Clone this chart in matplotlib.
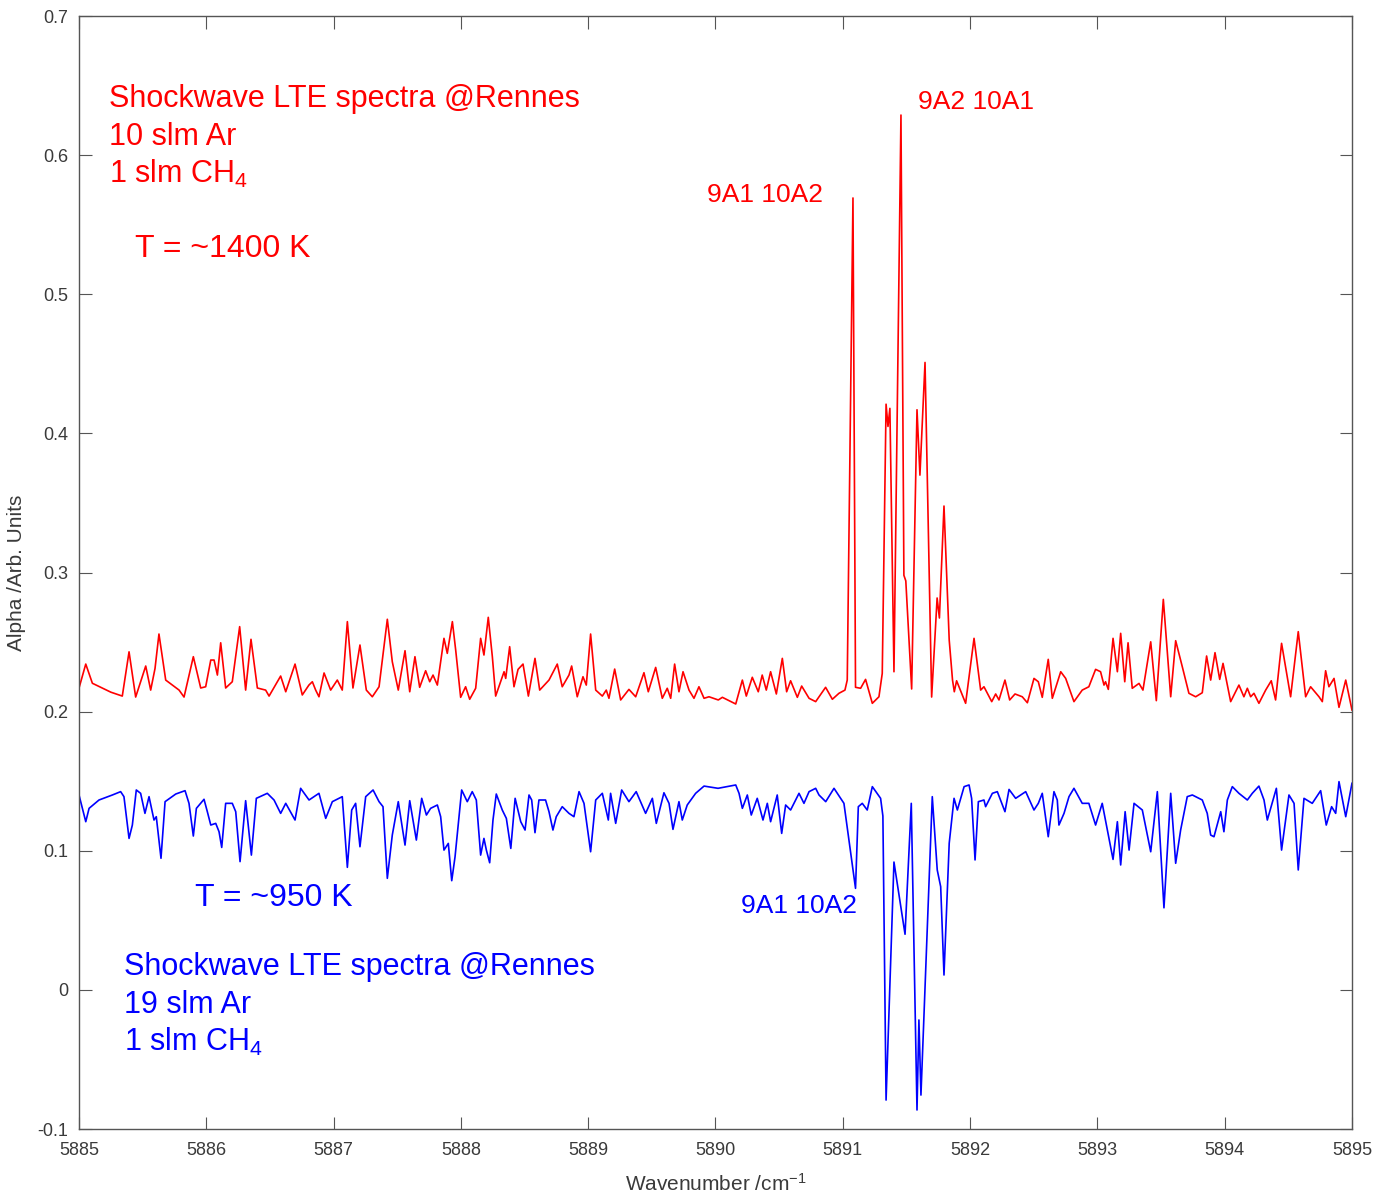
import matplotlib
matplotlib.use("Agg")
import matplotlib.pyplot as plt

plt.rcParams['font.family'] = ['Liberation Sans', 'DejaVu Sans']
plt.rcParams['mathtext.fontset'] = 'custom'
plt.rcParams['mathtext.rm'] = 'Liberation Sans'
plt.rcParams['mathtext.it'] = 'Liberation Sans:italic'

# Spectre rouge (~1400 K), sommets et creux
red_x = [
    5885.000, 5885.053, 5885.105, 5885.250, 5885.340, 5885.393, 5885.445, 5885.524, 5885.563, 5885.597,
    5885.628, 5885.681, 5885.786, 5885.825, 5885.898, 5885.956, 5885.995, 5886.035, 5886.061, 5886.087,
    5886.113, 5886.152, 5886.204, 5886.262, 5886.309, 5886.351, 5886.401, 5886.466, 5886.493, 5886.584,
    5886.624, 5886.697, 5886.754, 5886.806, 5886.833, 5886.859, 5886.885, 5886.925, 5886.977, 5887.029,
    5887.068, 5887.108, 5887.152, 5887.207, 5887.257, 5887.304, 5887.357, 5887.422, 5887.461, 5887.508,
    5887.561, 5887.598, 5887.639, 5887.676, 5887.723, 5887.755, 5887.781, 5887.815, 5887.867, 5887.893,
    5887.933, 5887.959, 5887.998, 5888.037, 5888.069, 5888.116, 5888.155, 5888.181, 5888.215, 5888.247,
    5888.273, 5888.339, 5888.352, 5888.383, 5888.417, 5888.449, 5888.488, 5888.530, 5888.582, 5888.619,
    5888.692, 5888.757, 5888.796, 5888.849, 5888.870, 5888.914, 5888.959, 5888.985, 5889.019, 5889.059,
    5889.111, 5889.142, 5889.163, 5889.208, 5889.255, 5889.320, 5889.373, 5889.438, 5889.472, 5889.530,
    5889.582, 5889.621, 5889.648, 5889.679, 5889.713, 5889.745, 5889.792, 5889.831, 5889.870, 5889.910,
    5889.949, 5890.022, 5890.054, 5890.159, 5890.211, 5890.242, 5890.289, 5890.336, 5890.367, 5890.399,
    5890.433, 5890.478, 5890.525, 5890.559, 5890.590, 5890.643, 5890.677, 5890.735, 5890.787, 5890.865,
    5890.918, 5890.970, 5891.017, 5891.035, 5891.080, 5891.100, 5891.140, 5891.179, 5891.232, 5891.284,
    5891.310, 5891.340, 5891.355, 5891.370, 5891.402, 5891.457, 5891.480, 5891.495, 5891.541, 5891.583,
    5891.606, 5891.646, 5891.698, 5891.741, 5891.759, 5891.795, 5891.836, 5891.862, 5891.876, 5891.894,
    5891.965, 5892.031, 5892.083, 5892.109, 5892.170, 5892.201, 5892.227, 5892.274, 5892.311, 5892.353,
    5892.410, 5892.450, 5892.502, 5892.536, 5892.567, 5892.614, 5892.646, 5892.712, 5892.751, 5892.816,
    5892.881, 5892.933, 5892.986, 5893.025, 5893.052, 5893.064, 5893.086, 5893.123, 5893.157, 5893.183,
    5893.215, 5893.241, 5893.274, 5893.327, 5893.358, 5893.419, 5893.463, 5893.518, 5893.576, 5893.615,
    5893.667, 5893.719, 5893.772, 5893.824, 5893.858, 5893.890, 5893.924, 5893.961, 5893.987, 5894.047,
    5894.112, 5894.151, 5894.178, 5894.204, 5894.230, 5894.269, 5894.322, 5894.366, 5894.400, 5894.447,
    5894.518, 5894.578, 5894.636, 5894.675, 5894.741, 5894.767, 5894.793, 5894.819, 5894.859, 5894.898,
    5894.951, 5895.000,
]
red_y = [
    0.2170, 0.2342, 0.2204, 0.2140, 0.2112, 0.2430, 0.2105, 0.2328, 0.2155, 0.2310,
    0.2558, 0.2227, 0.2155, 0.2105, 0.2395, 0.2170, 0.2179, 0.2371, 0.2371, 0.2263,
    0.2495, 0.2170, 0.2215, 0.2611, 0.2155, 0.2520, 0.2170, 0.2155, 0.2112, 0.2256,
    0.2143, 0.2342, 0.2120, 0.2191, 0.2215, 0.2155, 0.2107, 0.2278, 0.2155, 0.2227,
    0.2155, 0.2647, 0.2170, 0.2479, 0.2155, 0.2107, 0.2179, 0.2664, 0.2359, 0.2155,
    0.2438, 0.2143, 0.2395, 0.2175, 0.2294, 0.2215, 0.2263, 0.2191, 0.2527, 0.2419,
    0.2647, 0.2443, 0.2103, 0.2179, 0.2089, 0.2168, 0.2527, 0.2407, 0.2678, 0.2395,
    0.2112, 0.2287, 0.2239, 0.2467, 0.2179, 0.2304, 0.2342, 0.2112, 0.2383, 0.2155,
    0.2227, 0.2342, 0.2179, 0.2263, 0.2328, 0.2107, 0.2251, 0.2191, 0.2558, 0.2155,
    0.2112, 0.2155, 0.2096, 0.2306, 0.2084, 0.2160, 0.2107, 0.2280, 0.2143, 0.2318,
    0.2096, 0.2168, 0.2096, 0.2342, 0.2143, 0.2287, 0.2155, 0.2096, 0.2179, 0.2096,
    0.2107, 0.2084, 0.2103, 0.2055, 0.2227, 0.2112, 0.2247, 0.2143, 0.2263, 0.2155,
    0.2287, 0.2127, 0.2383, 0.2143, 0.2222, 0.2103, 0.2184, 0.2096, 0.2072, 0.2175,
    0.2089, 0.2132, 0.2155, 0.2227, 0.5692, 0.2175, 0.2168, 0.2232, 0.2060, 0.2107,
    0.2275, 0.4210, 0.4050, 0.4180, 0.2287, 0.6288, 0.2980, 0.2940, 0.2163, 0.4170,
    0.3700, 0.4510, 0.2105, 0.2817, 0.2673, 0.3478, 0.2515, 0.2227, 0.2143, 0.2222,
    0.2060, 0.2527, 0.2155, 0.2179, 0.2072, 0.2127, 0.2084, 0.2227, 0.2084, 0.2127,
    0.2107, 0.2064, 0.2239, 0.2215, 0.2103, 0.2376, 0.2096, 0.2287, 0.2239, 0.2072,
    0.2155, 0.2179, 0.2304, 0.2287, 0.2191, 0.2215, 0.2160, 0.2527, 0.2287, 0.2563,
    0.2215, 0.2495, 0.2168, 0.2203, 0.2155, 0.2502, 0.2079, 0.2807, 0.2107, 0.2510,
    0.2323, 0.2132, 0.2107, 0.2136, 0.2400, 0.2227, 0.2424, 0.2232, 0.2347, 0.2072,
    0.2191, 0.2107, 0.2168, 0.2107, 0.2132, 0.2060, 0.2155, 0.2222, 0.2084, 0.2491,
    0.2107, 0.2575, 0.2107, 0.2179, 0.2107, 0.2072, 0.2294, 0.2179, 0.2239, 0.2031,
    0.2227, 0.2012,
]

# Spectre bleu (~950 K), creux vers le bas
blue_x = [
    5885.000, 5885.053, 5885.079, 5885.157, 5885.262, 5885.327, 5885.353, 5885.393, 5885.419, 5885.450,
    5885.484, 5885.518, 5885.550, 5885.589, 5885.607, 5885.644, 5885.676, 5885.760, 5885.833, 5885.864,
    5885.898, 5885.922, 5885.982, 5886.008, 5886.035, 5886.074, 5886.100, 5886.121, 5886.152, 5886.204,
    5886.231, 5886.265, 5886.309, 5886.354, 5886.393, 5886.479, 5886.532, 5886.584, 5886.624, 5886.697,
    5886.741, 5886.807, 5886.885, 5886.938, 5886.990, 5887.068, 5887.108, 5887.142, 5887.173, 5887.207,
    5887.252, 5887.310, 5887.357, 5887.388, 5887.422, 5887.461, 5887.508, 5887.561, 5887.598, 5887.650,
    5887.692, 5887.729, 5887.762, 5887.815, 5887.841, 5887.867, 5887.901, 5887.928, 5887.954, 5887.985,
    5888.006, 5888.050, 5888.089, 5888.121, 5888.155, 5888.181, 5888.200, 5888.226, 5888.252, 5888.278,
    5888.325, 5888.357, 5888.392, 5888.426, 5888.470, 5888.504, 5888.535, 5888.556, 5888.582, 5888.613,
    5888.665, 5888.692, 5888.723, 5888.749, 5888.796, 5888.849, 5888.888, 5888.928, 5888.967, 5889.019,
    5889.059, 5889.111, 5889.158, 5889.176, 5889.216, 5889.263, 5889.320, 5889.377, 5889.451, 5889.504,
    5889.535, 5889.595, 5889.635, 5889.666, 5889.713, 5889.739, 5889.778, 5889.844, 5889.910, 5890.020,
    5890.159, 5890.185, 5890.211, 5890.250, 5890.281, 5890.328, 5890.373, 5890.407, 5890.433, 5890.485,
    5890.520, 5890.551, 5890.590, 5890.656, 5890.695, 5890.735, 5890.787, 5890.813, 5890.866, 5890.931,
    5891.009, 5891.100, 5891.122, 5891.153, 5891.192, 5891.232, 5891.297, 5891.315, 5891.340, 5891.402,
    5891.489, 5891.538, 5891.583, 5891.598, 5891.614, 5891.703, 5891.742, 5891.769, 5891.795, 5891.836,
    5891.874, 5891.900, 5891.953, 5891.992, 5892.012, 5892.039, 5892.065, 5892.109, 5892.122, 5892.175,
    5892.214, 5892.274, 5892.306, 5892.358, 5892.437, 5892.502, 5892.536, 5892.567, 5892.614, 5892.659,
    5892.685, 5892.698, 5892.738, 5892.777, 5892.816, 5892.881, 5892.933, 5892.986, 5893.038, 5893.123,
    5893.157, 5893.183, 5893.218, 5893.249, 5893.288, 5893.353, 5893.419, 5893.471, 5893.523, 5893.576,
    5893.615, 5893.654, 5893.706, 5893.746, 5893.824, 5893.863, 5893.890, 5893.916, 5893.969, 5893.994,
    5894.021, 5894.060, 5894.112, 5894.178, 5894.217, 5894.269, 5894.309, 5894.335, 5894.406, 5894.427,
    5894.447, 5894.505, 5894.545, 5894.578, 5894.623, 5894.688, 5894.754, 5894.798, 5894.840, 5894.872,
    5894.898, 5894.951, 5895.000,
]
blue_y = [
    0.1401, 0.1209, 0.1305, 0.1365, 0.1401, 0.1425, 0.1389, 0.1089, 0.1185, 0.1437,
    0.1413, 0.1269, 0.1389, 0.1221, 0.1245, 0.0946, 0.1353, 0.1408, 0.1432, 0.1341,
    0.1106, 0.1305, 0.1370, 0.1281, 0.1185, 0.1197, 0.1137, 0.1024, 0.1341, 0.1341,
    0.1281, 0.0922, 0.1360, 0.0969, 0.1377, 0.1413, 0.1365, 0.1269, 0.1341, 0.1221,
    0.1449, 0.1365, 0.1413, 0.1233, 0.1353, 0.1389, 0.0881, 0.1293, 0.1341, 0.1029,
    0.1389, 0.1437, 0.1353, 0.1317, 0.0802, 0.1113, 0.1353, 0.1041, 0.1360, 0.1077,
    0.1377, 0.1257, 0.1305, 0.1329, 0.1245, 0.1005, 0.1053, 0.0785, 0.0957, 0.1245,
    0.1437, 0.1353, 0.1425, 0.1365, 0.0969, 0.1089, 0.1005, 0.0914, 0.1221, 0.1408,
    0.1293, 0.1233, 0.1017, 0.1377, 0.1209, 0.1149, 0.1401, 0.1365, 0.1130, 0.1365,
    0.1365, 0.1281, 0.1149, 0.1245, 0.1317, 0.1269, 0.1245, 0.1425, 0.1341, 0.0993,
    0.1365, 0.1413, 0.1221, 0.1413, 0.1197, 0.1437, 0.1353, 0.1425, 0.1269, 0.1377,
    0.1197, 0.1417, 0.1341, 0.1154, 0.1353, 0.1221, 0.1329, 0.1413, 0.1465, 0.1449,
    0.1473, 0.1413, 0.1305, 0.1401, 0.1257, 0.1377, 0.1221, 0.1341, 0.1209, 0.1401,
    0.1125, 0.1329, 0.1293, 0.1413, 0.1341, 0.1425, 0.1449, 0.1401, 0.1353, 0.1449,
    0.1341, 0.0730, 0.1317, 0.1341, 0.1293, 0.1461, 0.1377, 0.1250, -0.0792, 0.0919,
    0.0400, 0.1341, -0.0863, -0.0216, -0.0756, 0.1389, 0.0862, 0.0742, 0.0107, 0.1054,
    0.1377, 0.1293, 0.1461, 0.1473, 0.1377, 0.0934, 0.1353, 0.1365, 0.1317, 0.1413,
    0.1425, 0.1281, 0.1441, 0.1377, 0.1425, 0.1293, 0.1341, 0.1413, 0.1101, 0.1425,
    0.1365, 0.1185, 0.1269, 0.1389, 0.1449, 0.1341, 0.1341, 0.1185, 0.1341, 0.0938,
    0.1209, 0.0898, 0.1281, 0.1005, 0.1341, 0.1293, 0.0993, 0.1425, 0.0590, 0.1413,
    0.0910, 0.1149, 0.1389, 0.1401, 0.1365, 0.1269, 0.1113, 0.1101, 0.1281, 0.1137,
    0.1365, 0.1461, 0.1413, 0.1365, 0.1413, 0.1465, 0.1365, 0.1221, 0.1449, 0.1221,
    0.1005, 0.1401, 0.1341, 0.0862, 0.1377, 0.1341, 0.1432, 0.1185, 0.1317, 0.1269,
    0.1497, 0.1245, 0.1485,
]

x_ticks = [5885, 5886, 5887, 5888, 5889, 5890, 5891, 5892, 5893, 5894, 5895]
y_ticks = [-0.1, 0, 0.1, 0.2, 0.3, 0.4, 0.5, 0.6, 0.7]
y_ticklabels = ["-0.1", "0", "0.1", "0.2", "0.3", "0.4", "0.5", "0.6", "0.7"]

fig = plt.figure(figsize=(13.79, 11.95), dpi=100)
ax = fig.add_axes([0.0573, 0.0552, 0.9231, 0.9314])

ax.plot(red_x, red_y, color=(1, 0, 0), lw=1.2)
ax.plot(blue_x, blue_y, color=(0, 0, 1), lw=1.2)

ax.set_xlim(5885, 5895)
ax.set_ylim(-0.1, 0.7)
ax.set_xticks(x_ticks)
ax.set_xticklabels([str(t) for t in x_ticks])
ax.set_yticks(y_ticks)
ax.set_yticklabels(y_ticklabels)

axc = '#3a3a3a'
for s in ax.spines.values():
    s.set_color('#555555')
    s.set_linewidth(1.0)
ax.tick_params(direction='in', length=9, width=0.8, color='#555555',
               top=True, right=True, labelsize=13, labelcolor=axc)
ax.tick_params(axis='x', pad=9)
ax.tick_params(axis='y', pad=8)

ax.set_xlabel("Wavenumber /cm$^{-1}$", fontsize=15, color=axc, labelpad=10)
ax.set_ylabel("Alpha /Arb. Units", fontsize=15, color=axc, labelpad=8)

# Annotations rouges
red = (1, 0, 0)
ax.text(5885.236, 0.6346, "Shockwave LTE spectra @Rennes", color=red, fontsize=22, va='baseline')
ax.text(5885.236, 0.6073, "10 slm Ar", color=red, fontsize=22, va='baseline')
ax.text(5885.236, 0.5800, "1 slm CH$_4$", color=red, fontsize=22, va='baseline')
ax.text(5885.440, 0.5268, "T = ~1400 K", color=red, fontsize=23, va='baseline')
ax.text(5891.591, 0.6332, "9A2 10A1", color=red, fontsize=19, va='baseline')
ax.text(5889.933, 0.5663, "9A1 10A2", color=red, fontsize=19, va='baseline')

# Annotations bleues
blue = (0, 0, 1)
ax.text(5885.911, 0.0603, "T = ~950 K", color=blue, fontsize=23, va='baseline')
ax.text(5890.200, 0.0553, "9A1 10A2", color=blue, fontsize=19, va='baseline')
ax.text(5885.354, 0.0107, "Shockwave LTE spectra @Rennes", color=blue, fontsize=22, va='baseline')
ax.text(5885.354, -0.0166, "19 slm Ar", color=blue, fontsize=22, va='baseline')
ax.text(5885.354, -0.0439, "1 slm CH$_4$", color=blue, fontsize=22, va='baseline')

plt.savefig("out.png", dpi=100)
plt.close()
